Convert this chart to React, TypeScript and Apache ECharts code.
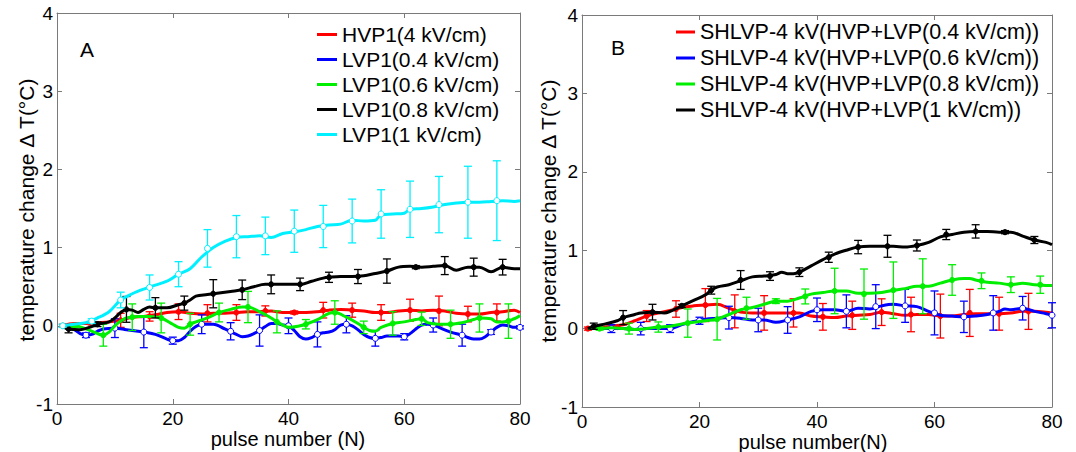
import { useEffect, useRef } from "react";
import * as echarts from "echarts";

const FONT = "Liberation Sans, Arial, Helvetica, sans-serif";
const AXIS_GRAY = "#7a7a7a";
const RED = "#ff0000";
const BLUE = "#0000ff";
const GREEN = "#00ee00";
const BLACK = "#000000";
const CYAN = "#00f0ff";

// axis ranges / ticks
const xRange = [0, 80];
const xStep = 20;
const yRange = [-1, 4];
const yStep = 1;

// ---------- Panel A ----------
const lineA_HVP1: number[][] = [[1,0],[3,0.03],[5,0.03],[7,0.04],[9,0.05],[11,0.07],[13,0.11],[15,0.12],[17,0.14],[19,0.17],[21,0.18],[23,0.16],[25,0.15],[27,0.16],[29,0.16],[31,0.17],[33,0.18],[35,0.18],[37,0.19],[39,0.17],[41,0.17],[43,0.17],[45,0.18],[47,0.2],[49,0.21],[51,0.2],[53,0.19],[55,0.17],[57,0.17],[59,0.19],[61,0.2],[63,0.19],[65,0.2],[67,0.19],[69,0.16],[71,0.15],[73,0.15],[75,0.17],[77,0.18],[79,0.2],[80,0.17]];
const errA_HVP1: number[][] = [[1,0,0.02],[6,0.03,0.02],[11,0.07,0.09],[16,0.12,0.06],[21,0.18,0.1],[26,0.16,0.11],[31,0.17,0.1],[36,0.19,0.065],[41,0.17,0.02],[46,0.2,0.1],[51,0.2,0.09],[56,0.17,0.1],[61,0.2,0.14],[66,0.19,0.19],[71,0.15,0.1],[76,0.17,0.11]];

const lineA_LVP04: number[][] = [[1,0],[2,-0.03],[3,-0.05],[4,-0.1],[5,-0.12],[6,-0.11],[7,-0.07],[8,-0.04],[10,-0.03],[12,-0.05],[14,-0.07],[15,-0.08],[17,-0.11],[19,-0.17],[20,-0.19],[21,-0.19],[22,-0.15],[23,-0.07],[24,-0.01],[25,0.02],[27,0.02],[29,-0.04],[31,-0.11],[32,-0.14],[33,-0.13],[34,-0.1],[35,-0.06],[36,-0.01],[37,0.03],[38,0.03],[39,0.01],[40,0],[41,-0.06],[42,-0.14],[43,-0.17],[44,-0.15],[45,-0.11],[46,-0.09],[47,-0.08],[48,-0.05],[49,0.01],[50,0.02],[51,0],[52,-0.05],[53,-0.11],[54,-0.15],[55,-0.16],[56,-0.15],[57,-0.13],[59,-0.13],[60,-0.14],[61,-0.1],[62,-0.04],[63,0.01],[64,0.02],[65,0.01],[66,-0.02],[68,-0.08],[70,-0.12],[71,-0.15],[72,-0.17],[73,-0.17],[74,-0.14],[75,-0.08],[76,-0.02],[77,0.01],[78,0],[79,-0.02],[80,-0.02]];
const errA_LVP04: number[][] = [[5,-0.12,0.03],[10,-0.03,0.12],[15,-0.08,0.2],[20,-0.19,0.045],[25,0.02,0.12],[30,-0.07,0.11],[35,-0.06,0.2],[40,0,0.1],[45,-0.11,0.16],[50,0.02,0.11],[55,-0.16,0.1],[60,-0.14,0.04],[65,0.01,0.09],[70,-0.12,0.14],[75,-0.08,0.03],[80,-0.02,0.02]];

const lineA_LVP06: number[][] = [[1,0],[3,0],[5,-0.04],[7,-0.1],[8,-0.12],[9,-0.08],[10,0],[11,0.06],[12,0.1],[14,0.12],[16,0.12],[18,0.1],[20,0.02],[21,-0.02],[22,-0.03],[23,0.02],[24,0.05],[26,0.1],[28,0.17],[30,0.21],[32,0.24],[33,0.24],[35,0.18],[37,0.1],[38,0.05],[39,0.01],[40,-0.02],[42,0],[43,0.02],[45,0.08],[47,0.16],[48,0.17],[50,0.11],[52,0.03],[53,-0.02],[54,-0.06],[55,-0.07],[56,-0.02],[58,0.03],[60,0.05],[62,0.08],[63,0.09],[64,0.04],[66,0.02],[68,0.02],[70,0.04],[72,0.08],[73,0.1],[75,0.09],[76,0.05],[77,0.05],[79,0.09],[80,0.13]];
const errA_LVP06: number[][] = [[3,0,0.02],[8,-0.12,0.14],[13,0.11,0.17],[18,0.1,0.19],[23,0.02,0.14],[28,0.17,0.12],[33,0.24,0.2],[38,0.05,0.14],[43,0.02,0.06],[48,0.17,0.15],[53,-0.02,0.08],[58,0.03,0.15],[63,0.09,0.085],[68,0.02,0.18],[73,0.1,0.18],[78,0.06,0.22]];

const lineA_LVP08: number[][] = [[1,-0.01],[2,-0.04],[4,-0.05],[6,-0.01],[7,0.02],[9,0.05],[10,0.1],[11,0.17],[12,0.21],[13,0.2],[14,0.17],[15,0.21],[16,0.24],[17,0.23],[19,0.23],[21,0.27],[22,0.29],[23,0.33],[24,0.38],[26,0.4],[28,0.42],[30,0.44],[32,0.46],[34,0.5],[36,0.53],[38,0.53],[40,0.53],[42,0.53],[44,0.57],[46,0.61],[47,0.62],[49,0.63],[51,0.63],[53,0.64],[55,0.67],[57,0.7],[59,0.75],[61,0.76],[63,0.75],[65,0.76],[67,0.77],[69,0.71],[71,0.75],[73,0.75],[75,0.69],[77,0.75],[79,0.73],[80,0.73]];
const errA_LVP08: number[][] = [[2,-0.04,0.05],[7,0.02,0.03],[12,0.21,0.165],[17,0.23,0.13],[22,0.29,0.09],[27,0.41,0.18],[32,0.46,0.125],[37,0.53,0.12],[42,0.53,0.08],[47,0.62,0.065],[52,0.63,0.09],[57,0.7,0.155],[62,0.75,0.02],[67,0.77,0.115],[72,0.75,0.115],[77,0.75,0.1]];

const lineA_LVP1: number[][] = [[1,0],[3,0.02],[5,0.04],[7,0.1],[9,0.18],[11,0.33],[13,0.41],[15,0.47],[17,0.52],[19,0.57],[21,0.66],[23,0.73],[25,0.88],[27,1.0],[29,1.08],[31,1.13],[33,1.14],[35,1.15],[37,1.13],[39,1.18],[41,1.2],[43,1.23],[45,1.27],[47,1.29],[49,1.3],[51,1.35],[53,1.34],[55,1.35],[56,1.42],[58,1.43],[60,1.44],[61,1.49],[63,1.5],[65,1.52],[67,1.55],[69,1.57],[71,1.58],[73,1.58],[75,1.59],[77,1.6],[79,1.59],[80,1.6]];
const errA_LVP1: number[][] = [[1,0,0.02],[6,0.06,0.03],[11,0.33,0.1],[16,0.49,0.16],[21,0.66,0.16],[26,0.99,0.24],[31,1.14,0.27],[36,1.15,0.24],[41,1.21,0.27],[46,1.27,0.27],[51,1.34,0.28],[56,1.43,0.31],[61,1.49,0.36],[66,1.55,0.36],[71,1.58,0.46],[76,1.6,0.51]];

// ---------- Panel B ----------
const lineB_04: number[][] = [[1,0],[3,0.01],[5,0.03],[7,0.05],[9,0.1],[11,0.16],[13,0.2],[15,0.23],[17,0.27],[19,0.29],[21,0.3],[23,0.31],[25,0.26],[27,0.21],[29,0.2],[31,0.2],[33,0.2],[35,0.2],[37,0.2],[39,0.16],[41,0.15],[43,0.14],[45,0.16],[47,0.17],[49,0.18],[51,0.21],[53,0.19],[55,0.17],[57,0.18],[59,0.18],[61,0.16],[63,0.16],[65,0.18],[67,0.19],[69,0.19],[71,0.19],[73,0.2],[75,0.22],[77,0.22],[79,0.21],[80,0.2]];
const errB_04: number[][] = [[1,0,0.02],[6,0.02,0.02],[11,0.16,0.07],[16,0.25,0.105],[21,0.3,0.21],[26,0.22,0.21],[31,0.2,0.22],[36,0.2,0.18],[41,0.15,0.17],[46,0.17,0.18],[51,0.21,0.17],[56,0.18,0.22],[61,0.16,0.28],[66,0.2,0.3],[71,0.19,0.21],[76,0.22,0.23]];

const lineB_06: number[][] = [[1,0],[3,0],[5,0],[7,0],[9,-0.01],[11,0],[13,0],[15,0],[17,0.05],[19,0.09],[21,0.12],[23,0.13],[25,0.14],[27,0.13],[29,0.11],[31,0.11],[33,0.08],[35,0.11],[37,0.15],[39,0.22],[41,0.24],[43,0.24],[45,0.22],[47,0.26],[49,0.25],[51,0.29],[53,0.31],[55,0.29],[57,0.28],[59,0.22],[61,0.17],[63,0.16],[65,0.15],[67,0.16],[69,0.18],[71,0.22],[72,0.25],[73,0.24],[75,0.26],[77,0.22],[79,0.19],[80,0.17]];
const errB_06: number[][] = [[5,0,0.05],[10,0,0.08],[15,0,0.05],[20,0.1,0.045],[25,0.14,0.145],[30,0.11,0.15],[35,0.11,0.17],[40,0.24,0.15],[45,0.22,0.21],[50,0.28,0.28],[55,0.29,0.21],[60,0.2,0.28],[65,0.15,0.2],[70,0.2,0.22],[75,0.26,0.15],[80,0.17,0.16]];

const lineB_08: number[][] = [[1,0],[3,0],[5,0.01],[7,0],[9,-0.01],[11,0],[13,0.02],[15,0.03],[17,0.06],[19,0.08],[21,0.1],[23,0.12],[25,0.18],[27,0.24],[29,0.27],[31,0.31],[33,0.35],[35,0.35],[37,0.39],[39,0.44],[41,0.46],[43,0.48],[45,0.48],[47,0.45],[49,0.45],[51,0.46],[53,0.49],[55,0.51],[57,0.54],[59,0.54],[61,0.58],[63,0.62],[65,0.64],[66,0.64],[67,0.62],[69,0.59],[71,0.58],[73,0.56],[75,0.58],[77,0.56],[79,0.55],[80,0.55]];
const errB_08: number[][] = [[3,0,0.02],[8,0,0.07],[13,0.02,0.065],[18,0.07,0.18],[23,0.12,0.265],[28,0.26,0.14],[33,0.35,0.03],[38,0.41,0.095],[43,0.48,0.29],[48,0.44,0.32],[53,0.49,0.36],[58,0.54,0.35],[63,0.62,0.195],[68,0.61,0.1],[73,0.56,0.1],[78,0.56,0.11]];

const lineB_1: number[][] = [[1,0],[2,0.03],[4,0.06],[6,0.1],[7,0.14],[9,0.18],[10,0.2],[12,0.21],[14,0.2],[15,0.22],[17,0.29],[19,0.36],[21,0.43],[22,0.49],[23,0.53],[25,0.56],[27,0.61],[29,0.66],[31,0.67],[33,0.69],[34,0.72],[35,0.7],[36,0.7],[37,0.72],[39,0.8],[41,0.88],[43,0.95],[45,1.0],[47,1.04],[49,1.05],[51,1.05],[53,1.05],[55,1.04],[57,1.06],[59,1.1],[61,1.17],[63,1.2],[65,1.23],[67,1.24],[69,1.24],[71,1.23],[73,1.23],[75,1.18],[77,1.13],[79,1.1],[80,1.07]];
const errB_1: number[][] = [[2,0.03,0.04],[7,0.14,0.09],[12,0.21,0.1],[17,0.29,0.02],[22,0.49,0.05],[27,0.62,0.12],[32,0.67,0.055],[37,0.72,0.055],[42,0.91,0.065],[47,1.04,0.085],[52,1.05,0.14],[57,1.06,0.07],[62,1.2,0.065],[67,1.24,0.085],[72,1.23,0.02],[77,1.13,0.045]];

const seriesA = [
  { name: "HVP1(4 kV/cm)", color: RED, line: lineA_HVP1, err: errA_HVP1, open: false },
  { name: "LVP1(0.4 kV/cm)", color: BLUE, line: lineA_LVP04, err: errA_LVP04, open: true },
  { name: "LVP1(0.6 kV/cm)", color: GREEN, line: lineA_LVP06, err: errA_LVP06, open: false },
  { name: "LVP1(0.8 kV/cm)", color: BLACK, line: lineA_LVP08, err: errA_LVP08, open: false },
  { name: "LVP1(1 kV/cm)", color: CYAN, line: lineA_LVP1, err: errA_LVP1, open: true },
];
const seriesB = [
  { name: "SHLVP-4 kV(HVP+LVP(0.4 kV/cm))", color: RED, line: lineB_04, err: errB_04, open: false },
  { name: "SHLVP-4 kV(HVP+LVP(0.6 kV/cm))", color: BLUE, line: lineB_06, err: errB_06, open: true },
  { name: "SHLVP-4 kV(HVP+LVP(0.8 kV/cm))", color: GREEN, line: lineB_08, err: errB_08, open: false },
  { name: "SHLVP-4 kV(HVP+LVP(1 kV/cm))", color: BLACK, line: lineB_1, err: errB_1, open: false },
];

function makeAxes(gridIndex: number) {
  const common = {
    gridIndex,
    axisLine: { show: true, onZero: false, lineStyle: { color: AXIS_GRAY, width: 1 } },
    axisTick: { show: true, inside: true, length: 5, lineStyle: { color: AXIS_GRAY } },
    splitLine: { show: false },
  };
  const lab = { color: "#000", fontSize: 19, fontFamily: FONT };
  const x = [
    { ...common, type: "value", position: "bottom", min: xRange[0], max: xRange[1], interval: xStep, axisLabel: { ...lab, margin: 5 } },
    { ...common, type: "value", position: "top", min: xRange[0], max: xRange[1], interval: xStep, axisLabel: { show: false } },
  ];
  const y = [
    { ...common, type: "value", position: "left", min: yRange[0], max: yRange[1], interval: yStep, axisLabel: { ...lab, margin: 4 } },
    { ...common, type: "value", position: "right", min: yRange[0], max: yRange[1], interval: yStep, axisLabel: { show: false } },
  ];
  return { x, y };
}

function buildSeries(list: any[], axisBase: number) {
  const out: any[] = [];
  list.forEach((s, i) => {
    out.push({
      type: "line",
      name: s.name,
      xAxisIndex: axisBase,
      yAxisIndex: axisBase,
      data: s.line,
      smooth: 0.35,
      symbol: "none",
      showSymbol: false,
      lineStyle: { color: s.color, width: 3 },
      itemStyle: { color: s.color },
      z: 2 + i * 2,
      silent: true,
    });
    out.push({
      type: "custom",
      xAxisIndex: axisBase,
      yAxisIndex: axisBase,
      data: s.err,
      encode: { x: 0, y: 1 },
      z: 3 + i * 2,
      silent: true,
      renderItem: (_p: any, api: any) => {
        const x = api.value(0);
        const y = api.value(1);
        const e = api.value(2);
        const top = api.coord([x, y + e]);
        const bot = api.coord([x, y - e]);
        const mid = api.coord([x, y]);
        const w = 4;
        const st = { stroke: s.color, lineWidth: 1.3 };
        return {
          type: "group",
          children: [
            { type: "line", shape: { x1: top[0], y1: top[1], x2: bot[0], y2: bot[1] }, style: st },
            { type: "line", shape: { x1: top[0] - w, y1: top[1], x2: top[0] + w, y2: top[1] }, style: st },
            { type: "line", shape: { x1: bot[0] - w, y1: bot[1], x2: bot[0] + w, y2: bot[1] }, style: st },
            {
              type: "circle",
              shape: { cx: mid[0], cy: mid[1], r: s.open ? 3 : 2.6 },
              style: { fill: s.open ? "#ffffff" : s.color, stroke: s.color, lineWidth: 1 },
            },
          ],
        };
      },
    });
  });
  return out;
}

function txt(text: string, x: number, y: number, size: number, rotation = 0) {
  return {
    type: "text",
    x,
    y,
    rotation,
    style: {
      text,
      fontSize: size,
      fontFamily: FONT,
      fill: "#000",
      align: "center",
      verticalAlign: "middle",
      textAlign: "center",
      textVerticalAlign: "middle",
    },
  };
}

export default function App() {
  const ref = useRef<HTMLDivElement>(null);
  useEffect(() => {
    document.body.style.margin = "0";
    if (!ref.current) return;
    const chart = echarts.init(ref.current, undefined, { renderer: "svg" });
    const a = makeAxes(0);
    const b = makeAxes(1);
    const legendCommon = {
      orient: "vertical",
      itemHeight: 3,
      itemGap: 4,
      icon: "rect",
      selectedMode: false,
      padding: 0,
    };
    chart.setOption({
      animation: false,
      backgroundColor: "#ffffff",
      grid: [
        { left: 57, top: 13, width: 463, height: 391 },
        { left: 582, top: 15, width: 470, height: 392 },
      ],
      xAxis: [...a.x, ...b.x],
      yAxis: [...a.y, ...b.y],
      legend: [
        { ...legendCommon, data: seriesA.map((s) => s.name), left: 317, top: 24, itemWidth: 20, textStyle: { fontSize: 21, fontFamily: FONT, color: "#000" } },
        { ...legendCommon, data: seriesB.map((s) => s.name), left: 676, top: 21, itemWidth: 19, textStyle: { fontSize: 21.5, fontFamily: FONT, color: "#000" } },
      ],
      graphic: [
        txt("A", 87, 49, 21),
        txt("B", 618, 47, 21),
        txt("temperature change \u0394 T(\u00B0C)", 26, 210, 21, Math.PI / 2),
        txt("temperature change \u0394 T(\u00B0C)", 548, 211, 21, Math.PI / 2),
        txt("pulse number (N)", 288, 439, 20),
        txt("pulse number(N)", 813, 442, 20),
      ],
      series: [...buildSeries(seriesA, 0), ...buildSeries(seriesB, 2)],
    });
    return () => chart.dispose();
  }, []);
  return <div ref={ref} style={{ width: 1076, height: 452 }} />;
}
